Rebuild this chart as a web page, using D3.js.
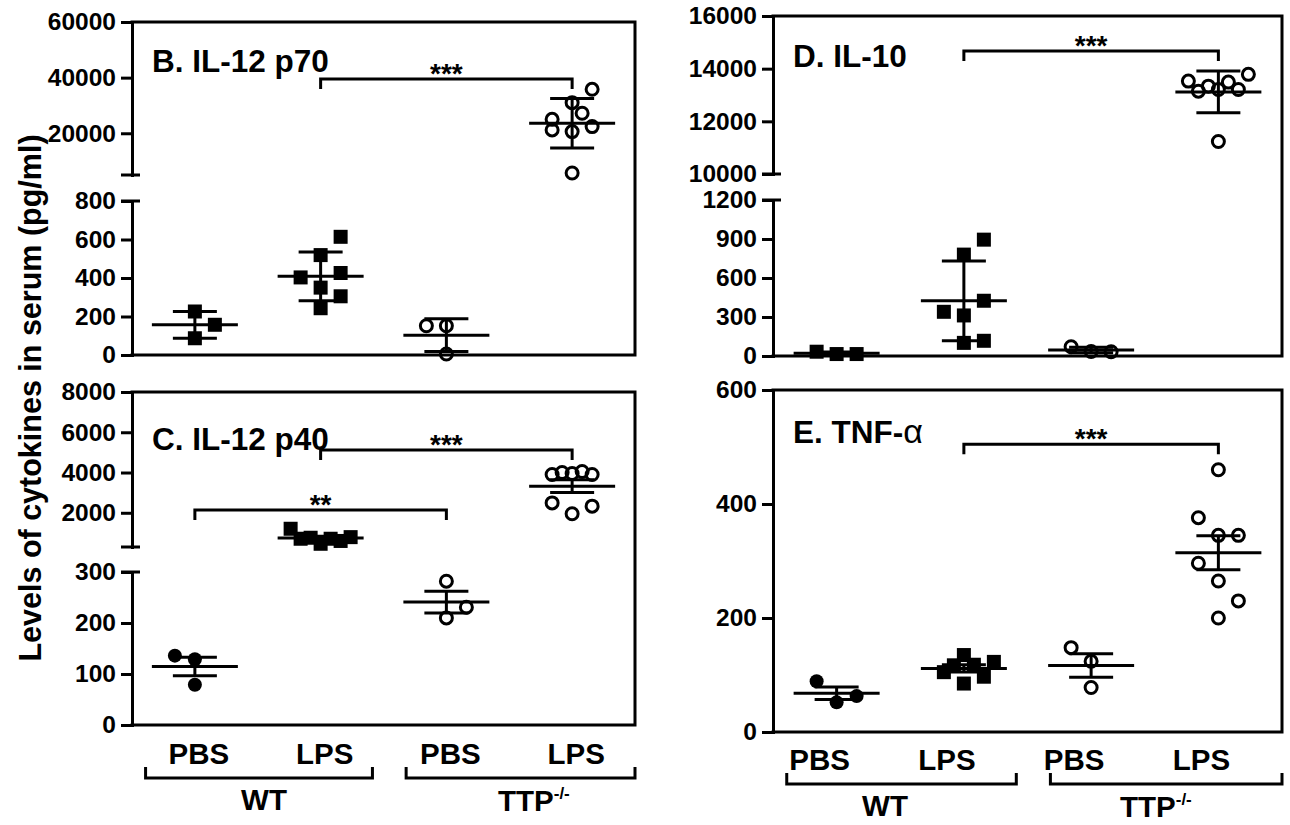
<!DOCTYPE html>
<html><head><meta charset="utf-8">
<script src="https://cdn.jsdelivr.net/npm/d3@7"></script>
<style>
html,body{margin:0;padding:0;background:#fff;}
svg text{font-family:"Liberation Sans",Arial,Helvetica,sans-serif;font-weight:bold;fill:#000;}
</style></head><body>
<svg id="chart" width="1290" height="825"></svg>
<script>
// ---------- DATA ----------
const groups = ["WT PBS", "WT LPS", "TTP PBS", "TTP LPS"];
const treatmentLabels = ["PBS", "LPS", "PBS", "LPS"];
const genotypeLabels = ["WT", "TTP"];
const yAxisTitle = "Levels of cytokines in serum (pg/ml)";

// B. IL-12 p70 (mean ± SD), pg/ml
const p70Values = [
  [226, 157, 87],
  [614, 519, 403, 426, 350, 305, 243],
  [152, 152, 5],
  [35800, 31000, 27200, 25000, 22400, 21200, 20600, 5700]
];
const p70Jitter = [[0, 2, 0], [2, 0, -2, 2, 0, 2, 0], [-2, 0, 0], [2, 0, 1, -2, 2, -2, 0, 0]];
const p70TicksHigh = [20000, 40000, 60000];
const p70TicksLow = [0, 200, 400, 600, 800];
const p70DomainHigh = [5000, 60000];
const p70DomainLow = [0, 800];

// C. IL-12 p40 (mean ± SEM)
const p40Values = [
  [136, 129, 79],
  [1206, 710, 760, 460, 710, 600, 790],
  [282, 231, 210],
  [3900, 4000, 3950, 4050, 3900, 2490, 1950, 2330]
];
const p40Jitter = [[-2, 0, 0], [-3, -2, -1, 0, 1, 2, 3], [0, 2, 0], [-2, -1, 0, 1, 2, -2, 0, 2]];
const p40TicksHigh = [2000, 4000, 6000, 8000];
const p40TicksLow = [0, 100, 200, 300];
const p40DomainHigh = [300, 8000];
const p40DomainLow = [0, 300];

// D. IL-10 (mean ± SD)
const il10Values = [
  [33, 15, 15],
  [895, 780, 425, 340, 312, 117, 101],
  [71, 35, 33],
  [13528, 13146, 13337, 13210, 13490, 13210, 13784, 11235]
];
const il10Jitter = [[-2, 0, 2], [2, 0, 2, -2, 0, 2, 0], [-2, 0, 2], [-3, -2, -1, 0, 1, 2, 3, 0]];
const il10TicksHigh = [10000, 12000, 14000, 16000];
const il10TicksLow = [0, 300, 600, 900, 1200];
const il10DomainHigh = [10000, 16000];
const il10DomainLow = [0, 1200];

// E. TNF-alpha (mean ± SEM)
const tnfValues = [
  [89, 52, 63],
  [105, 117, 135, 85, 118, 97, 123],
  [148, 124, 78],
  [460, 376, 345, 345, 296, 265, 230, 200]
];
const tnfJitter = [[-2, 0, 2], [-2, -1, 0, 0, 1, 2, 3], [-2, 0, 0], [0, -2, 0, 2, -2, 0, 2, 0]];
const tnfTicks = [0, 200, 400, 600];
const tnfDomain = [0, 600];

// significance brackets: [from group, to group, height (data units), label]
const p70Sig = [[1, 3, 39500, "***"]];
const p40Sig = [[1, 3, 5120, "***"], [0, 2, 2140, "**"]];
const il10Sig = [[1, 3, 14670, "***"]];
const tnfSig = [[1, 3, 505, "***"]];

// ---------- DRAWING ----------
const svg = d3.select("#chart");
const SW = 3;
const JIT = 10;
const MEAN_HW = 43, CAP_HW = 22;

const panels = [
  { title: "B. IL-12 p70", tx: 152, ty: 72, xr: [132, 635], err: "SD",
    values: p70Values, jitter: p70Jitter, shapes: ["square", "square", "circle", "circle"], sig: p70Sig,
    segs: [{ domain: p70DomainHigh, range: [175, 22], ticks: p70TicksHigh },
           { domain: p70DomainLow, range: [355, 201], ticks: p70TicksLow }] },
  { title: "C. IL-12 p40", tx: 152, ty: 450, xr: [132, 635], err: "SEM",
    values: p40Values, jitter: p40Jitter, shapes: ["dot", "square", "circle", "circle"], sig: p40Sig,
    segs: [{ domain: p40DomainHigh, range: [547, 392], ticks: p40TicksHigh },
           { domain: p40DomainLow, range: [725, 572], ticks: p40TicksLow }] },
  { title: "D. IL-10", tx: 793, ty: 67, xr: [773, 1282], err: "SD",
    values: il10Values, jitter: il10Jitter, shapes: ["square", "square", "circle", "circle"], sig: il10Sig,
    segs: [{ domain: il10DomainHigh, range: [174, 16], ticks: il10TicksHigh },
           { domain: il10DomainLow, range: [356, 200], ticks: il10TicksLow }] },
  { title: "E. TNF-", alpha: true, tx: 793, ty: 443, xr: [773, 1282], err: "SEM",
    values: tnfValues, jitter: tnfJitter, shapes: ["dot", "square", "circle", "circle"], sig: tnfSig,
    segs: [{ domain: tnfDomain, range: [732, 390], ticks: tnfTicks }] }
];

function drawPanel(p) {
  const g = svg.append("g");
  const x = d3.scalePoint().domain(groups).range(p.xr).padding(0.5);
  const segs = p.segs.map(s => Object.assign({}, s, { y: d3.scaleLinear().domain(s.domain).range(s.range) }));
  const seg = v => segs.find(s => v >= s.domain[0] && v <= s.domain[1]) || segs[segs.length - 1];
  const yOf = v => seg(v).y(v);
  const x0 = p.xr[0], x1 = p.xr[1];
  const top = segs[0].range[1], bottom = segs[segs.length - 1].range[0];

  // axes
  segs.forEach((s, i) => {
    const ax = d3.axisLeft(s.y).tickValues(s.ticks).tickSize(11).tickPadding(5)
      .tickSizeOuter(0).tickFormat(d3.format("d"));
    const a = g.append("g").attr("transform", `translate(${x0},0)`).call(ax);
    a.select(".domain").attr("stroke", "#000").attr("stroke-width", SW).attr("stroke-linecap", "square");
    a.selectAll(".tick line").attr("stroke", "#000").attr("stroke-width", SW);
    a.selectAll(".tick text").attr("font-size", 24.5).attr("fill", "#000")
      .style("font-family", '"Liberation Sans",Arial,sans-serif').style("font-weight", "bold");
    // break crosses
    if (segs.length > 1) {
      const yy = i === 0 ? s.range[0] : s.range[1];
      g.append("line").attr("x1", x0 - 11).attr("x2", x0 + 8)
        .attr("y1", yy).attr("y2", yy).attr("stroke", "#000").attr("stroke-width", SW);
    }
  });

  // frame: top, right, x-axis
  const frame = d3.path();
  frame.moveTo(x0, top); frame.lineTo(x1, top); frame.lineTo(x1, bottom); frame.lineTo(x0, bottom);
  g.append("path").attr("d", frame.toString()).attr("fill", "none").attr("stroke", "#000")
    .attr("stroke-width", SW).attr("stroke-linejoin", "miter").attr("stroke-linecap", "square");

  // markers
  p.values.forEach((vals, gi) => {
    const cx0 = x(groups[gi]);
    const shape = p.shapes[gi];
    vals.forEach((v, k) => {
      const cx = cx0 + p.jitter[gi][k] * JIT, cy = yOf(v);
      if (shape === "square") {
        g.append("rect").attr("x", cx - 7).attr("y", cy - 7).attr("width", 14).attr("height", 14).attr("fill", "#000");
      } else if (shape === "dot") {
        g.append("circle").attr("cx", cx).attr("cy", cy).attr("r", 7).attr("fill", "#000");
      } else {
        g.append("circle").attr("cx", cx).attr("cy", cy).attr("r", 6).attr("fill", "none")
          .attr("stroke", "#000").attr("stroke-width", 3);
      }
    });
    // mean and error bars
    const m = d3.mean(vals);
    const sd = d3.deviation(vals);
    const e = p.err === "SD" ? sd : sd / Math.sqrt(vals.length);
    const ln = (xa, ya, xb, yb) => g.append("line").attr("x1", xa).attr("y1", ya).attr("x2", xb).attr("y2", yb)
      .attr("stroke", "#000").attr("stroke-width", SW);
    ln(cx0 - MEAN_HW, yOf(m), cx0 + MEAN_HW, yOf(m));
    ln(cx0, yOf(m + e), cx0, yOf(Math.max(m - e, 0)));
    ln(cx0 - CAP_HW, yOf(m + e), cx0 + CAP_HW, yOf(m + e));
    ln(cx0 - CAP_HW, yOf(Math.max(m - e, 0)), cx0 + CAP_HW, yOf(Math.max(m - e, 0)));
  });

  // significance brackets
  p.sig.forEach(([a, b, h, lab]) => {
    const xa = x(groups[a]), xb = x(groups[b]), yy = yOf(h);
    const bp = d3.path();
    bp.moveTo(xa, yy + 10); bp.lineTo(xa, yy); bp.lineTo(xb, yy); bp.lineTo(xb, yy + 10);
    g.append("path").attr("d", bp.toString()).attr("fill", "none").attr("stroke", "#000").attr("stroke-width", SW);
    g.append("text").attr("x", (xa + xb) / 2).attr("y", yy + 4).attr("text-anchor", "middle")
      .attr("font-size", 28).text(lab);
  });

  // title
  const t = g.append("text").attr("x", p.tx).attr("y", p.ty).attr("font-size", 31.5).text(p.title);
  if (p.alpha) t.append("tspan").style("font-weight", "normal").attr("font-size", 34).text("α");
  return x;
}

const scales = panels.map(drawPanel);

// x category labels and genotype brackets
function xLabels(x, xr, dx, base, wtX, ttpX) {
  const g = svg.append("g");
  const w = xr[1] - xr[0];
  groups.forEach((grp, i) => {
    g.append("text").attr("x", x(grp) + dx).attr("y", base).attr("text-anchor", "middle")
      .attr("font-size", 29.5).text(treatmentLabels[i]);
  });
  [[0.027, 0.478], [0.545, 1.0]].forEach(([f0, f1]) => {
    const bp = d3.path();
    const a = xr[0] + f0 * w, b = xr[0] + f1 * w, yy = base + 14;
    bp.moveTo(a, yy - 11); bp.lineTo(a, yy); bp.lineTo(b, yy); bp.lineTo(b, yy - 11);
    g.append("path").attr("d", bp.toString()).attr("fill", "none").attr("stroke", "#000").attr("stroke-width", SW);
  });
  g.append("text").attr("x", wtX).attr("y", base + 46).attr("text-anchor", "middle")
    .attr("font-size", 29.5).text(genotypeLabels[0]);
  const tt = g.append("text").attr("x", ttpX).attr("y", base + 47).attr("font-size", 29.5).text(genotypeLabels[1]);
  tt.append("tspan").attr("dy", -12).attr("font-size", 17).text("-/-");
}
xLabels(scales[1], panels[1].xr, 4, 764, 264, 498);
xLabels(scales[3], panels[3].xr, -17, 770, 885, 1120);

// y axis title
svg.append("text").attr("transform", "translate(41,398) rotate(-90)").attr("text-anchor", "middle")
  .attr("font-size", 30.5).text(yAxisTitle);
</script>
</body></html>
